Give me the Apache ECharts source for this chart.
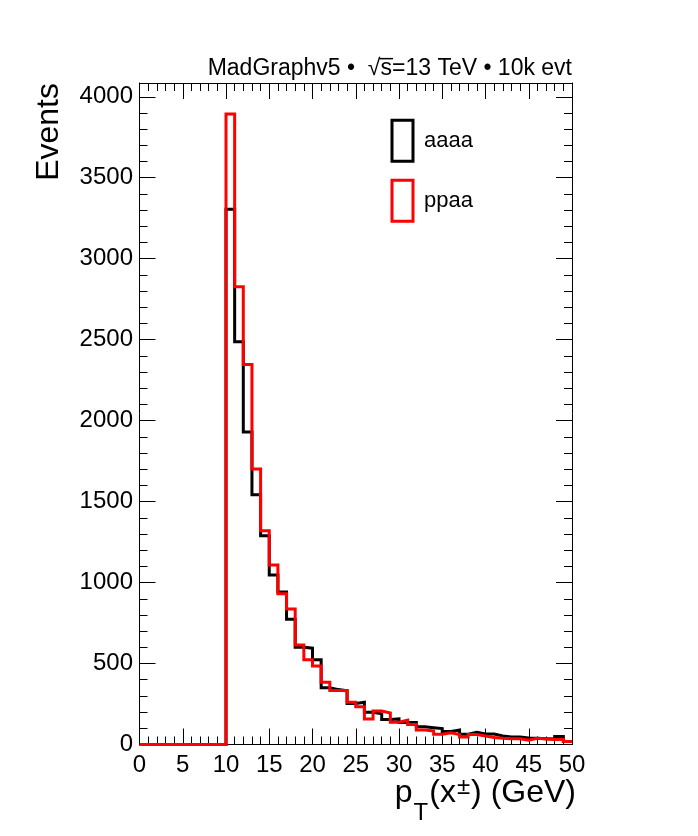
<!DOCTYPE html>
<html>
<head>
<meta charset="utf-8">
<script src="https://cdn.jsdelivr.net/npm/echarts@6/dist/echarts.min.js"></script>
<style>
html,body{margin:0;padding:0;background:#ffffff;}
#chart{width:698px;height:836px;}
</style>
</head>
<body>
<div id="chart"></div>
<script>
// ---- data ----
const binEdges = [0,1,2,3,4,5,6,7,8,9,10,11,12,13,14,15,16,17,18,19,20,21,22,23,24,25,26,27,28,29,30,31,32,33,34,35,36,37,38,39,40,41,42,43,44,45,46,47,48,49,50];
const aaaa = [0,0,0,0,0,0,0,0,0,0,
  3305,2487,1930,1543,1289,1046,941,774,601,595,
  523,351,339,331,253,261,199,189,155,158,
  136,136,110,104,98,80,89,63,75,65,
  65,53,46,46,40,38,36,34,50,18];
const ppaa = [0,0,0,0,0,0,0,0,0,0,
  3893,2827,2347,1702,1320,1108,931,836,615,523,
  485,385,333,333,261,233,158,207,195,138,
  150,123,90,84,64,72,62,47,62,53,
  43,38,36,36,26,38,34,31,31,18];
const seriesNames = ['aaaa','ppaa'];
const xTickLabels = [0,5,10,15,20,25,30,35,40,45,50];
const yTickLabels = [0,500,1000,1500,2000,2500,3000,3500,4000];
const headerPre = 'MadGraphv5 \u2022  \u221A';
const headerS = 's';
const headerPost = '=13 TeV \u2022 10k evt';
const yTitle = 'Events';

// ---- build ----
function histPoints(vals){
  const pts = vals.map((v,i)=>[binEdges[i], v]);
  pts.push([binEdges[binEdges.length-1], vals[vals.length-1]]);
  return pts;
}
const FONT = '"Liberation Sans", Arial, Helvetica, sans-serif';
const YMAX = 4085;
const black = '#000000';
const HFONT = '23px ' + FONT;

// measure header pieces for the radical's overline
const mctx = document.createElement('canvas').getContext('2d');
mctx.font = HFONT;
const wPre = mctx.measureText(headerPre).width;
const wS = mctx.measureText(headerS).width;
const wAll = mctx.measureText(headerPre + headerS + headerPost).width;
const headerRight = 572, headerMidY = 69;
const olX0 = headerRight - wAll + wPre - 1;
const olX1 = olX0 + wS + 2;
const olY = headerMidY + 0.35*23 - 0.80*23;

function xAx(pos, labels){
  return {
    type:'value', position:pos, min:0, max:50, interval:5,
    axisLine:{show:true,onZero:false,lineStyle:{color:black,width:1}},
    axisTick:{show:true,inside:true,length:16,lineStyle:{color:black,width:1}},
    minorTick:{show:true,splitNumber:5,length:8,lineStyle:{color:black,width:1}},
    axisLabel:{show:labels,color:black,fontSize:24,fontFamily:FONT,margin:9,
      formatter:v=>xTickLabels.includes(v)?String(v):''},
    splitLine:{show:false}, minorSplitLine:{show:false}
  };
}
function yAx(pos, major, labels){
  return {
    type:'value', position:pos, min:0, max:YMAX, interval: major?500:100,
    axisLine:{show:major,onZero:false,lineStyle:{color:black,width:1}},
    axisTick:{show:true,inside:true,length: major?16:8,lineStyle:{color:black,width:1}},
    minorTick:{show:false},
    axisLabel:{show:labels,color:black,fontSize:24,fontFamily:FONT,margin:6.5,
      formatter:v=>yTickLabels.includes(v)?String(v):''},
    splitLine:{show:false}
  };
}

const chart = echarts.init(document.getElementById('chart'), null, {renderer:'canvas'});
chart.setOption({
  backgroundColor:'#ffffff',
  animation:false,
  grid:{left:139.5, top:83, width:432.5, height:661.5, containLabel:false, outerBoundsMode:'none', show:false},
  xAxis:[xAx('bottom',true), xAx('top',false)],
  yAxis:[yAx('left',true,true), yAx('left',false,false), yAx('right',true,false), yAx('right',false,false)],
  legend:{
    show:true, orient:'vertical', left:390.5, top:118.8, padding:0,
    itemWidth:21, itemHeight:41, itemGap:16, selectedMode:false,
    icon:'rect',
    textStyle:{color:black,fontSize:22,fontFamily:FONT,padding:[0,0,0,6]},
    data:[
      {name:seriesNames[0], icon:'rect', itemStyle:{color:'rgba(0,0,0,0)',borderColor:'#000000',borderWidth:3}},
      {name:seriesNames[1], icon:'rect', itemStyle:{color:'rgba(0,0,0,0)',borderColor:'#ff0000',borderWidth:3}}
    ]
  },
  series:[
    {name:seriesNames[0], type:'line', step:'end', symbol:'none', clip:false,
     xAxisIndex:0, yAxisIndex:0, color:'#000000',
     lineStyle:{color:'#000000',width:3,join:'miter',cap:'butt'},
     data:histPoints(aaaa), z:3},
    {name:seriesNames[1], type:'line', step:'end', symbol:'none', clip:false,
     xAxisIndex:0, yAxisIndex:0, color:'#ff0000',
     lineStyle:{color:'#ff0000',width:3,join:'miter',cap:'butt'},
     data:histPoints(ppaa), z:4}
  ],
  graphic:[
    {type:'text', x:headerRight, y:headerMidY, z:10,
     style:{text:headerPre + headerS + headerPost, fill:black, font:HFONT,
            align:'right', textAlign:'right', verticalAlign:'middle', textVerticalAlign:'middle'}},
    {type:'line', z:10, shape:{x1:olX0, y1:olY, x2:olX1, y2:olY},
     style:{stroke:black, lineWidth:1.5}},
    {type:'text', x:49, y:83, rotation:Math.PI/2, z:10,
     style:{text:yTitle, fill:black, font:'32px '+FONT,
            align:'right', textAlign:'right', verticalAlign:'middle', textVerticalAlign:'middle'}},
    {type:'text', x:576, y:777, z:10,
     style:{text:'{m|p}{s|T}{m|(x}{u|\u00B1}{m|) (GeV)}', fill:black,
            align:'right', textAlign:'right', verticalAlign:'top', textVerticalAlign:'top',
            rich:{
              m:{fontSize:32, fontFamily:FONT, lineHeight:32, fill:black, color:black},
              s:{fontSize:24, fontFamily:FONT, lineHeight:24, padding:[40,1,0,1], fill:black, color:black},
              u:{fontSize:24, fontFamily:FONT, lineHeight:24, padding:[0,1,12,1], fill:black, color:black}
            }}}
  ]
});
</script>
</body>
</html>
